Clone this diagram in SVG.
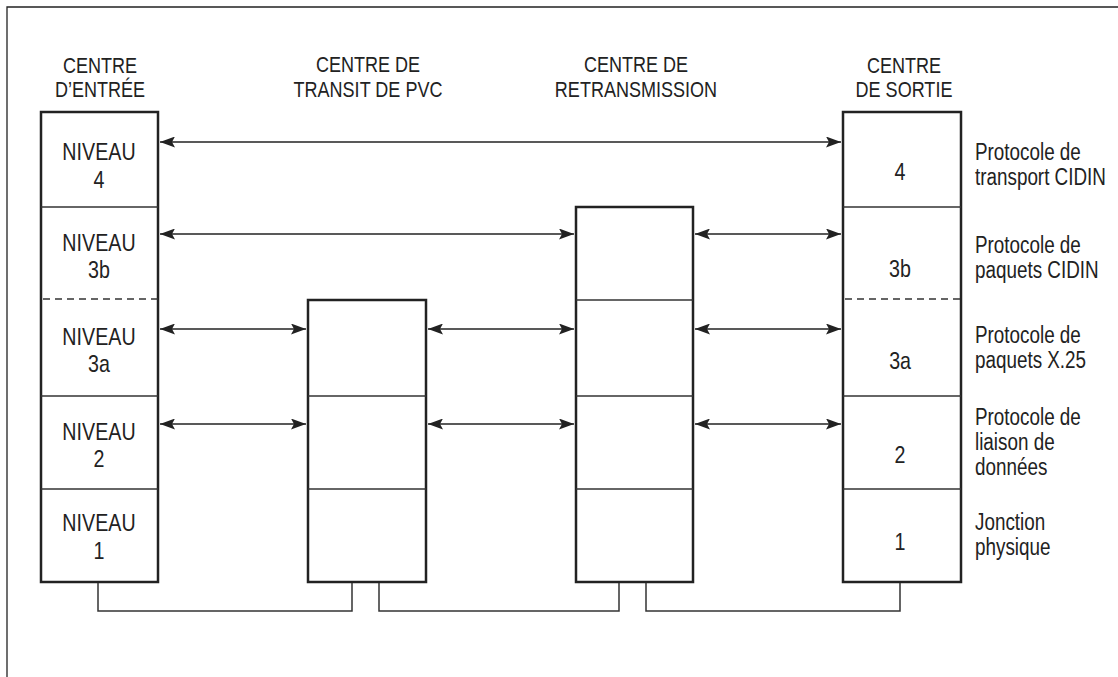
<svg xmlns="http://www.w3.org/2000/svg" width="1118" height="677" viewBox="0 0 1118 677">
<style>
text{font-family:"Liberation Sans",Arial,sans-serif;fill:#222;transform-box:fill-box;}
.h{font-size:22px;text-anchor:middle;transform-origin:center;transform:scaleX(0.82);}
.n{font-size:24px;text-anchor:middle;transform-origin:center;transform:scaleX(0.82);}
.r{font-size:23px;transform-origin:left center;transform:scaleX(0.82);}
.box{fill:#fff;stroke:#222;stroke-width:2.5;}
.div{stroke:#333;stroke-width:1.5;fill:none;}
.dash{stroke:#333;stroke-width:1.3;stroke-dasharray:7,5;fill:none;}
.arr{stroke:#222;stroke-width:1.3;fill:none;marker-start:url(#a);marker-end:url(#a);}
.ln{stroke:#333;stroke-width:1.5;fill:none;}
</style>
<defs>
<marker id="a" viewBox="0 0 15 11" refX="15" refY="5.5" markerWidth="15" markerHeight="11" markerUnits="userSpaceOnUse" orient="auto-start-reverse">
<path d="M0,0 L15,5.5 L0,11 L3,5.5 Z" fill="#222"/>
</marker>
</defs>
<rect width="1118" height="677" fill="#fff"/>
<path d="M7,677 V7 H1118" fill="none" stroke="#222" stroke-width="1.3"/>

<g id="entree">
<text class="h" x="100" y="73">CENTRE</text>
<text class="h" x="100" y="97">D’ENTRÉE</text>
<rect class="box" x="41" y="112" width="117" height="470"/>
<line class="div" x1="41" y1="207" x2="158" y2="207"/>
<line class="dash" x1="43" y1="299" x2="158" y2="299"/>
<line class="div" x1="41" y1="396" x2="158" y2="396"/>
<line class="div" x1="41" y1="489" x2="158" y2="489"/>
<text class="n" x="99" y="160">NIVEAU</text><text class="n" x="99" y="188">4</text>
<text class="n" x="99" y="251">NIVEAU</text><text class="n" x="99" y="278">3b</text>
<text class="n" x="99" y="345">NIVEAU</text><text class="n" x="99" y="372">3a</text>
<text class="n" x="99" y="440">NIVEAU</text><text class="n" x="99" y="467">2</text>
<text class="n" x="99" y="531">NIVEAU</text><text class="n" x="99" y="559">1</text>
</g>

<g id="transit">
<text class="h" x="368" y="72">CENTRE DE</text>
<text class="h" x="368" y="97">TRANSIT DE PVC</text>
<rect class="box" x="308" y="300" width="118" height="282"/>
<line class="div" x1="308" y1="396" x2="426" y2="396"/>
<line class="div" x1="308" y1="489" x2="426" y2="489"/>
</g>

<g id="retransmission">
<text class="h" x="636" y="72">CENTRE DE</text>
<text class="h" x="636" y="97">RETRANSMISSION</text>
<rect class="box" x="576" y="207" width="117" height="375"/>
<line class="div" x1="576" y1="300" x2="693" y2="300"/>
<line class="div" x1="576" y1="396" x2="693" y2="396"/>
<line class="div" x1="576" y1="489" x2="693" y2="489"/>
</g>

<g id="sortie">
<text class="h" x="904" y="73">CENTRE</text>
<text class="h" x="904" y="97">DE SORTIE</text>
<rect class="box" x="843" y="112" width="118" height="470"/>
<line class="div" x1="843" y1="207" x2="961" y2="207"/>
<line class="dash" x1="845" y1="299" x2="961" y2="299"/>
<line class="div" x1="843" y1="396" x2="961" y2="396"/>
<line class="div" x1="843" y1="489" x2="961" y2="489"/>
<text class="n" x="900" y="180">4</text>
<text class="n" x="900" y="277">3b</text>
<text class="n" x="900" y="369">3a</text>
<text class="n" x="900" y="463">2</text>
<text class="n" x="900" y="550">1</text>
</g>

<g id="legende">
<text class="r" x="975" y="160">Protocole de</text>
<text class="r" x="975" y="185">transport CIDIN</text>
<text class="r" x="975" y="253">Protocole de</text>
<text class="r" x="975" y="278">paquets CIDIN</text>
<text class="r" x="975" y="343">Protocole de</text>
<text class="r" x="975" y="368">paquets X.25</text>
<text class="r" x="975" y="425">Protocole de</text>
<text class="r" x="975" y="450">liaison de</text>
<text class="r" x="975" y="475">données</text>
<text class="r" x="975" y="530">Jonction</text>
<text class="r" x="975" y="555">physique</text>
</g>

<g id="connecteurs">
<line class="arr" x1="160" y1="142" x2="841" y2="142"/>
<line class="arr" x1="160" y1="234" x2="574" y2="234"/>
<line class="arr" x1="695" y1="234" x2="841" y2="234"/>
<line class="arr" x1="160" y1="329" x2="306" y2="329"/>
<line class="arr" x1="428" y1="329" x2="574" y2="329"/>
<line class="arr" x1="695" y1="329" x2="841" y2="329"/>
<line class="arr" x1="160" y1="424" x2="306" y2="424"/>
<line class="arr" x1="428" y1="424" x2="574" y2="424"/>
<line class="arr" x1="695" y1="424" x2="841" y2="424"/>
<path class="ln" d="M98,583 V611 H352 V583"/>
<path class="ln" d="M379,583 V611 H619 V583"/>
<path class="ln" d="M646,583 V611 H900 V583"/>
</g>
</svg>
